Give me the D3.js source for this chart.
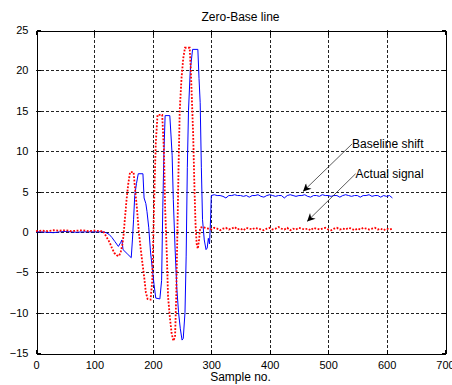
<!DOCTYPE html>
<html><head><meta charset="utf-8">
<script src="https://cdn.jsdelivr.net/npm/d3@7"></script>
<style>body{margin:0;background:#fff}svg{display:block}</style>
</head><body>
<svg id="c" width="452" height="385"></svg>
<script>
const titleText = "Zero-Base line";
const xLabelText = "Sample no.";
const xTicks = [0,100,200,300,400,500,600,700];
const yTicks = [-15,-10,-5,0,5,10,15,20,25];

// Baseline shift (blue solid)
const blueSamples = [0,10,20,30,40,50,60,70,80,90,100,110,115,120,125,130,135,141,145,147,149,156,163,165,167,169,172,175,183,185,188,190,193,196,199,202,205,212,215,217,219,221,229,231,233,235,238,241,244,247,250,252,255,257,259,261,264,268,277,279,281,283,285,288,291,293,295,297,299];
const blueValues = [0,0,-0.05,-0.1,0,0.05,0,-0.05,0,0,0,0,0,-0.1,-0.3,-0.7,-1.2,-1.8,-1.3,-1.0,-2.2,-2.7,-3.2,-1,1.5,4.5,6,7.2,7.2,4.2,3.5,2.5,0.5,-2.5,-4.5,-6.5,-8.2,-8.3,-6,3,10,14.4,14.4,12,9.5,4,-2,-7,-10,-12,-13.4,-13.2,-10,-3,8,15,20,22.6,22.6,19,16,8,1.5,-1,-2.2,-2,-0.8,-1.5,2];
const blueTailStart = 300, tailStep = 5;
const blueTailValues = [4.5,4.6,4.5,4.5,4.4,4.2,4.5,4.5,4.6,4.5,4.5,4.4,4.5,4.3,4.5,4.5,4.6,4.4,4.3,4.5,4.6,4.5,4.4,4.5,4.5,4.2,4.5,4.6,4.5,4.4,4.5,4.5,4.6,4.4,4.3,4.5,4.5,4.4,4.6,4.5,4.5,4.4,4.5,4.5,4.3,4.5,4.6,4.5,4.4,4.5,4.5,4.3,4.5,4.5,4.6,4.4,4.5,4.5,4.3,4.5,4.4,4.5,4.2];

// Actual signal (red dotted)
const redSamples = [0,10,20,30,40,50,60,70,80,90,100,110,115,118,122,126,130,134,138,142,145,148,150,152,155,158,161,167,170,173,176,179,182,185,188,191,196,199,201,203,205,208,216,219,221,224,226,229,232,235,238,240,242,244,246,249,252,255,263,265,267,269,271,273,275,277,279,281];
const redValues = [0.1,0.15,0.1,0.2,0.15,0.2,0.1,0.15,0.2,0.1,0.15,0.1,0.1,-0.3,-0.8,-1.3,-2.0,-2.6,-2.9,-3.0,-2.5,-1.5,-0.3,1.5,4,6,7.4,7.4,5,2.7,0,-2,-3.8,-5.5,-7.5,-8.3,-8.4,-6,0,6,11,14.5,14.5,10,3,-3,-8,-10.5,-12.5,-13.5,-13,-8,0,8,15,19,21.5,22.8,22.8,20,16,12,6,1,-1.5,-2.1,-1,0.5];
const redTailStart = 285;
const redTailValues = [0.6,0.5,0.4,0.3,0.5,0.4,0.2,0.4,0.5,0.3,0.4,0.6,0.3,0.4,0.2,0.5,0.4,0.3,0.5,0.4,0.3,0.2,0.4,0.5,0.3,0.4,0.6,0.4,0.3,0.5,0.2,0.4,0.3,0.5,0.4,0.3,0.4,0.2,0.5,0.4,0.3,0.4,0.5,0.3,0.2,0.4,0.5,0.3,0.4,0.3,0.5,0.4,0.2,0.4,0.3,0.5,0.4,0.3,0.4,0.5,0.3,0.4,0.2,0.4,0.3,0.4];

// Annotations: [label, text x, text y, arrow tip x, arrow tip y] in data units
const annLabels = ["Baseline shift","Actual signal"];
const annText = [[541,10.4],[547,6.7]];
const annTip = [[457,5.0],[464,1.3]];

const svg = d3.select("#c");
const L=36, R=445, T=30, B=353;
const x = d3.scaleLinear().domain([0,700]).range([L,R]);
const y = d3.scaleLinear().domain([-15,25]).range([B,T]);
const font = "'Liberation Sans', Arial, sans-serif";

svg.append("rect").attr("width",452).attr("height",385).attr("fill","#fff");

// grid
const g = svg.append("g").attr("shape-rendering","crispEdges").attr("stroke","#222").attr("stroke-width",1).attr("stroke-dasharray","3,2");
g.selectAll(".vx").data(xTicks.slice(1,-1)).join("line")
  .attr("x1",d=>Math.round(x(d))+0.5).attr("x2",d=>Math.round(x(d))+0.5).attr("y1",T).attr("y2",B);
g.selectAll(".hy").data(yTicks.slice(1,-1)).join("line")
  .attr("y1",d=>Math.round(y(d))+0.5).attr("y2",d=>Math.round(y(d))+0.5).attr("x1",L).attr("x2",R);

// axes
const axB = svg.append("g").attr("transform",`translate(0,${B+0.5})`)
  .call(d3.axisBottom(x).tickValues(xTicks).tickSizeInner(-4).tickSizeOuter(0).tickPadding(8));
const axL = svg.append("g").attr("transform",`translate(${L+0.5},0)`)
  .call(d3.axisLeft(y).tickValues(yTicks).tickSizeInner(-4).tickSizeOuter(0).tickPadding(8));
const axT = svg.append("g").attr("transform",`translate(0,${T+0.5})`)
  .call(d3.axisTop(x).tickValues(xTicks).tickSizeInner(-4).tickSizeOuter(0).tickFormat(""));
const axR = svg.append("g").attr("transform",`translate(${R+0.5},0)`)
  .call(d3.axisRight(y).tickValues(yTicks).tickSizeInner(-4).tickSizeOuter(0).tickFormat(""));
[axB,axL,axT,axR].forEach(a=>{
  a.selectAll("path,line").attr("stroke","#000").attr("shape-rendering","crispEdges");
  a.selectAll("text").attr("font-family",font).attr("font-size","11px").attr("fill","#000");
});

// lines
const blue = blueSamples.map((s,i)=>[s,blueValues[i]])
  .concat(blueTailValues.map((v,i)=>[blueTailStart+i*tailStep,v]));
const red = redSamples.map((s,i)=>[s,redValues[i]])
  .concat(redTailValues.map((v,i)=>[redTailStart+i*tailStep,v]));
const line = d3.line().x(d=>x(d[0])).y(d=>y(d[1]));
svg.append("path").datum(blue).attr("d",line).attr("fill","none").attr("stroke","#0000ff").attr("stroke-width",1);
svg.append("path").datum(red).attr("d",line).attr("fill","none").attr("stroke","#ff0000").attr("stroke-width",1.8).attr("stroke-dasharray","1.8,1.6");

// arrows
const defs = svg.append("defs");
defs.append("marker").attr("id","ah").attr("viewBox","0 0 10 10").attr("refX",10).attr("refY",5)
  .attr("markerWidth",11).attr("markerHeight",8).attr("markerUnits","userSpaceOnUse").attr("orient","auto")
  .append("path").attr("d","M0,0 L10,5 L0,10 L3,5 Z").attr("fill","#000");
annLabels.forEach((lab,i)=>{
  svg.append("line").attr("x1",x(annText[i][0])).attr("y1",y(annText[i][1])-4)
    .attr("x2",x(annTip[i][0])).attr("y2",y(annTip[i][1]))
    .attr("stroke","#333").attr("stroke-width",0.8).attr("marker-end","url(#ah)");
  svg.append("text").attr("x",x(annText[i][0])).attr("y",y(annText[i][1]))
    .attr("font-family",font).attr("font-size","12px").attr("fill","#000").text(lab);
});

// title & label
svg.append("text").attr("x",(L+R)/2).attr("y",21).attr("text-anchor","middle")
  .attr("font-family",font).attr("font-size","12px").text(titleText);
svg.append("text").attr("x",(L+R)/2).attr("y",381).attr("text-anchor","middle")
  .attr("font-family",font).attr("font-size","12px").text(xLabelText);
</script>
</body></html>
